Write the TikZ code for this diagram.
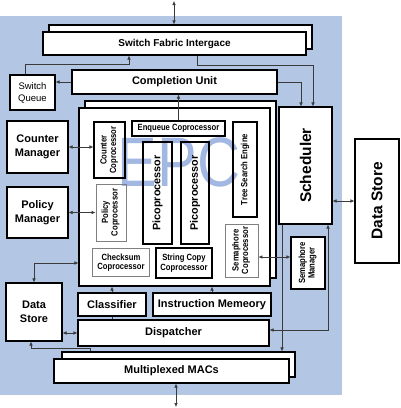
\documentclass[tikz,border=0pt]{standalone}
\usepackage{fontspec}
\usepackage{graphicx}
\setmainfont{Liberation Sans}
\newfontfamily\narrowsf{Liberation Sans}[FakeStretch=0.85]
\usetikzlibrary{arrows.meta,calc}
\definecolor{bgblue}{HTML}{B3C6E4}
\definecolor{wmark}{HTML}{A2B8E2}
\definecolor{wire}{HTML}{3A3A3A}
\definecolor{soft}{HTML}{808080}
\tikzset{
  box/.style={draw=black, line width=1.1pt, fill=white, inner sep=0pt, align=center,
              font=\bfseries\fontsize{11}{13.5}\selectfont},
  shadow/.style={draw=black, line width=1.1pt, fill=white, inner sep=0pt},
  bigfont/.style={font=\bfseries\fontsize{15.5}{17}\selectfont},
  cop/.style={draw=black, line width=1.1pt, inner sep=0pt, align=center,
              font=\narrowsf\bfseries\fontsize{9}{9.5}\selectfont},
  copg/.style={cop, draw=soft, line width=0.8pt},
  pico/.style={cop, font=\bfseries\fontsize{10.8}{12}\selectfont},
  wire/.style={line width=0.6pt, draw=wire},
  arr/.style={wire, -{Latex[length=4pt,width=3.5pt]}},
  biarr/.style={wire, {Latex[length=4pt,width=3.5pt]}-{Latex[length=4pt,width=3.5pt]}},
}
\newcommand{\vtext}[1]{\rotatebox{90}{\begin{tabular}{@{}c@{}}#1\end{tabular}}}

\begin{document}
\begin{tikzpicture}[x=1pt,y=-1pt]
\useasboundingbox (0,0) rectangle (400,408);
\fill[bgblue] (0,16) rectangle (342,395);
% back (shadow) boxes
\node[shadow, minimum width=263pt, minimum height=24pt] (sfiback) at (180.5,37) {};
\node[shadow, minimum width=191pt, minimum height=177pt] (epcback) at (180.5,189.5) {};
\node[shadow, minimum width=233pt, minimum height=25pt] (macback) at (178.5,364.5) {};
% outer blocks
\node[box, font=\bfseries\fontsize{10}{12}\selectfont, minimum width=263pt, minimum height=23pt] (sfi) at (174.5,43.5) {Switch Fabric Intergace};
\node[box, minimum width=205pt, minimum height=24pt] (cu) at (174.5,82) {Completion Unit};
\node[box, font=\fontsize{9.5}{12}\selectfont, minimum width=45pt, minimum height=35pt] (swq) at (32.5,92.5) {Switch\\Queue};
\node[box, minimum width=61pt, minimum height=52pt] (cntm) at (37.5,147) {Counter\\Manager};
\node[box, minimum width=61pt, minimum height=51pt] (polm) at (37.5,212.5) {Policy\\Manager};
\node[box, minimum width=56pt, minimum height=58pt] (dsl) at (34,312) {Data\\Store};
\node[box, minimum width=191pt, minimum height=178pt] (epc) at (174.5,197) {};
\node[box, minimum width=68pt, minimum height=23pt] (cls) at (112,304.5) {Classifier};
\node[box, minimum width=118pt, minimum height=23pt] (imem) at (212,304.5) {Instruction Memeory};
\node[box, minimum width=191pt, minimum height=26pt] (disp) at (173.5,333) {Dispatcher};
\node[box, minimum width=235pt, minimum height=24pt] (mac) at (171.5,371) {Multiplexed MACs};
\node[box, bigfont, minimum width=53pt, minimum height=117pt] (sched) at (305.5,165.5) {\rotatebox{90}{Scheduler}};
\node[box, bigfont, minimum width=44pt, minimum height=124pt] (dsr) at (377,201) {\rotatebox{90}{Data Store}};
\node[cop, fill=white, minimum width=34pt, minimum height=52pt] (semm) at (308,263) {\vtext{Semaphore\\Manager}};
% EPC contents
\node[text=wmark, font=\fontsize{70}{70}\selectfont, xscale=0.85, inner sep=0pt] (epcmark) at (179,162) {EPC};
\node[cop, minimum width=93pt, minimum height=15pt] (enq) at (178.5,128.5) {Enqueue Coprocessor};
\node[cop, minimum width=31pt, minimum height=56pt] (cntc) at (109.5,150) {\vtext{Counter\\Coprocessor}};
\node[copg, minimum width=30pt, minimum height=57pt] (polc) at (111,212.5) {\vtext{Policy\\Coprocessor}};
\node[pico, minimum width=29pt, minimum height=102pt] (pico1) at (157.5,193) {\rotatebox{90}{Picoprocessor}};
\node[pico, minimum width=28pt, minimum height=102pt] (pico2) at (195,193) {\rotatebox{90}{Picoprocessor}};
\node[cop, minimum width=24pt, minimum height=95pt] (tse) at (245,169.5) {\rotatebox{90}{Tree Search Engine}};
\node[copg, minimum width=33pt, minimum height=53pt] (semc) at (241.5,250.5) {\vtext{Semaphore\\Coprocessor}};
\node[copg, minimum width=57pt, minimum height=28pt] (cks) at (121,262.5) {Checksum\\Coprocessor};
\node[cop, minimum width=56pt, minimum height=30pt] (strc) at (184,263) {String Copy\\Coprocessor};
% connectors
\coordinate (fabio) at (174,1);
\coordinate (macio) at (176,407);
\draw[biarr] (fabio) -- (fabio |- sfiback.north);
\draw[biarr] (mac.south -| macio) -- (macio);
\draw[arr] (cu.west) -- (cu.west -| swq.east);
\draw[arr] ([xshift=-7.5pt]swq.north) -- ++(0,-10) -| ([xshift=-45.5pt]sfi.south);
\draw[arr] ([xshift=22.5pt]sfi.south) -- ++(0,10) -| ([xshift=7.5pt]sched.north);
\draw[arr] (cu.east) -| ([xshift=-4.5pt]sched.north);
\draw[arr] (enq.north) -- (enq.north |- cu.south);
\draw[biarr] (cntm.east) -- (cntm.east -| cntc.west);
\draw[biarr] (polm.east) -- (polm.east -| polc.west);
\draw[biarr] (dsl.north) |- ([yshift=-66pt]epc.west);
\draw[biarr] (dsl.east |- disp.west) -- (disp.west);
\draw[arr] (cls.north) -- (cls.north |- epc.south);
\draw[arr] (imem.north) -- (imem.north |- epc.south);
\draw[wire] (cls.south) -- (cls.south |- disp.north);
\draw[biarr] ([yshift=3pt]disp.east) -| ([xshift=22.5pt]sched.south);
\draw[arr] ([xshift=-23.5pt]sched.south) -- ([xshift=-23.5pt]sched.south |- macback.north);
\draw[biarr] (semc.east |- 0,257) -- (semm.west |- 0,257);
\draw[biarr] (sched.east |- dsr.west) -- (dsr.west);
\draw[arr] ([xshift=-88.5pt]macback.north) -- ++(0,-3) -| ([xshift=-3pt]dsl.south);
\end{tikzpicture}
\end{document}
